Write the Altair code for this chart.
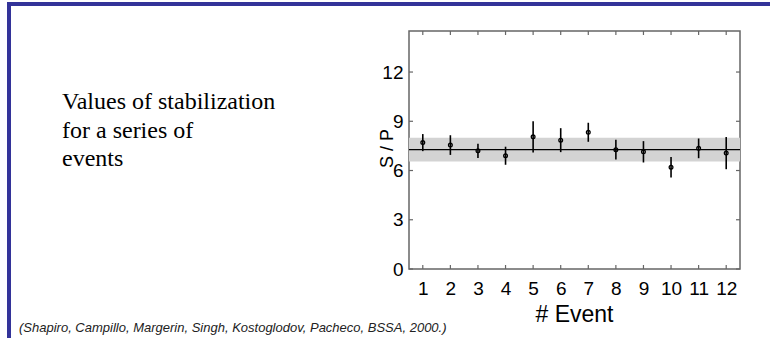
import altair as alt
import pandas as pd

# S/P stabilization values per event, with their error half-widths
events = [1, 2, 3, 4, 5, 6, 7, 8, 9, 10, 11, 12]
sp_values = [7.70, 7.55, 7.20, 6.90, 8.05, 7.85, 8.33, 7.27, 7.14, 6.20, 7.35, 7.06]
sp_errors = [0.52, 0.60, 0.43, 0.55, 0.95, 0.73, 0.58, 0.60, 0.65, 0.63, 0.60, 0.98]

# mean level and its uncertainty band
sp_mean = 7.27
band_lo = 6.55
band_hi = 8.00

y_ticks = [0, 3, 6, 9, 12]
x_domain = [0.5, 12.5]
y_domain = [0, 14.5]

intro_lines = ["Values of stabilization", "for a series of", "events"]
citation = "(Shapiro, Campillo, Margerin, Singh, Kostoglodov, Pacheco, BSSA, 2000.)"

W, H = 331, 238
PAD_L, PAD_T = 409, 31
FRAME = "#666666"
NAVY = "#333399"

df = pd.DataFrame({"event": events, "sp": sp_values, "err": sp_errors})
df["lo"] = df["sp"] - df["err"]
df["hi"] = df["sp"] + df["err"]

xs = alt.Scale(domain=x_domain, nice=False, zero=False)
ys = alt.Scale(domain=y_domain, nice=False, zero=False)
one = alt.Data(values=[{}])

# one axis definition per channel, shared by every layer so they merge cleanly
ax_x = alt.Axis(
    values=events, title="# Event", labelFontSize=19, titleFontSize=23,
    labelFont="Liberation Sans", titleFont="Liberation Sans",
    titleFontWeight="normal", labelColor="black", titleColor="black",
    ticks=False, tickSize=0, domain=False, grid=False, labelPadding=10,
    labelOverlap=False, labelFlush=False, format="d",
    titleX=574 - PAD_L, titleY=321 - (PAD_T + H), titleAlign="center",
    titleBaseline="alphabetic")
ax_y = alt.Axis(
    values=y_ticks, title="S / P", labelFontSize=19, titleFontSize=18,
    labelFont="Liberation Sans", titleFont="Liberation Sans",
    titleFontWeight="normal", labelColor="black", titleColor="black",
    ticks=False, tickSize=0, domain=False, grid=False, labelPadding=6,
    labelOverlap=False, format="d",
    titleAngle=270, titleX=392 - PAD_L, titleY=148 - PAD_T,
    titleAlign="center", titleBaseline="alphabetic")


def X(field):
    return alt.X(field, scale=xs, axis=ax_x)


def Y(field):
    return alt.Y(field, scale=ys, axis=ax_y)


# slide decoration: navy bar along the top and the left edge
top_bar = alt.Chart(one).mark_rect(color=NAVY).encode(
    x=alt.value(7 - PAD_L), x2=alt.value(770 - PAD_L),
    y=alt.value(2 - PAD_T), y2=alt.value(6 - PAD_T))
left_bar = alt.Chart(one).mark_rect(color=NAVY).encode(
    x=alt.value(7 - PAD_L), x2=alt.value(11 - PAD_L),
    y=alt.value(2 - PAD_T), y2=alt.value(338 - PAD_T))

band = alt.Chart(pd.DataFrame({"lo": [band_lo], "hi": [band_hi]})).mark_rect(
    color="#d3d3d3").encode(
    x=alt.value(0), x2=alt.value(W), y=Y("lo:Q"), y2="hi:Q")

mean_line = alt.Chart(pd.DataFrame({"m": [sp_mean]})).mark_rule(
    color="black", strokeWidth=1.4).encode(
    x=alt.value(0), x2=alt.value(W), y=Y("m:Q"))

bars = alt.Chart(df).mark_rule(color="black", strokeWidth=1.6).encode(
    x=X("event:Q"), y=Y("lo:Q"), y2="hi:Q")

points = alt.Chart(df).mark_point(
    shape="circle", filled=False, size=14, color="black", strokeWidth=1.3,
    opacity=1).encode(x=X("event:Q"), y=Y("sp:Q"))

# inward ticks on all four sides of the box
tick_df_x = pd.DataFrame({"t": events})
tick_df_y = pd.DataFrame({"t": y_ticks})
tick_style = dict(color=FRAME, strokeWidth=1.2)
ticks_bottom = alt.Chart(tick_df_x).mark_rule(**tick_style).encode(
    x=X("t:Q"), y=alt.value(H), y2=alt.value(H - 4))
ticks_top = alt.Chart(tick_df_x).mark_rule(**tick_style).encode(
    x=X("t:Q"), y=alt.value(0), y2=alt.value(4))
ticks_left = alt.Chart(tick_df_y).mark_rule(**tick_style).encode(
    y=Y("t:Q"), x=alt.value(0), x2=alt.value(4))
ticks_right = alt.Chart(tick_df_y).mark_rule(**tick_style).encode(
    y=Y("t:Q"), x=alt.value(W), x2=alt.value(W - 4))

intro = alt.Chart(one).mark_text(
    font="Liberation Serif", fontSize=24, align="left", baseline="alphabetic",
    lineHeight=28.3, color="black").encode(
    x=alt.value(62 - PAD_L), y=alt.value(109.3 - PAD_T),
    text=alt.value(intro_lines))

cite = alt.Chart(one).mark_text(
    font="Liberation Sans", fontSize=13, fontStyle="italic", align="left",
    baseline="alphabetic", color="#222222").encode(
    x=alt.value(19 - PAD_L), y=alt.value(331.7 - PAD_T),
    text=alt.value(citation))

chart = alt.layer(
    top_bar, left_bar, band, mean_line, bars, points,
    ticks_bottom, ticks_top, ticks_left, ticks_right, intro, cite
).properties(
    width=W, height=H,
    autosize=alt.AutoSizeParams(type="none"),
    padding={"left": PAD_L, "top": PAD_T, "right": 770 - PAD_L - W,
             "bottom": 342 - PAD_T - H},
    background="white",
).configure_view(stroke=FRAME, strokeWidth=1.5)

chart.save("out.html", embed_options={"renderer": "svg", "actions": False})
